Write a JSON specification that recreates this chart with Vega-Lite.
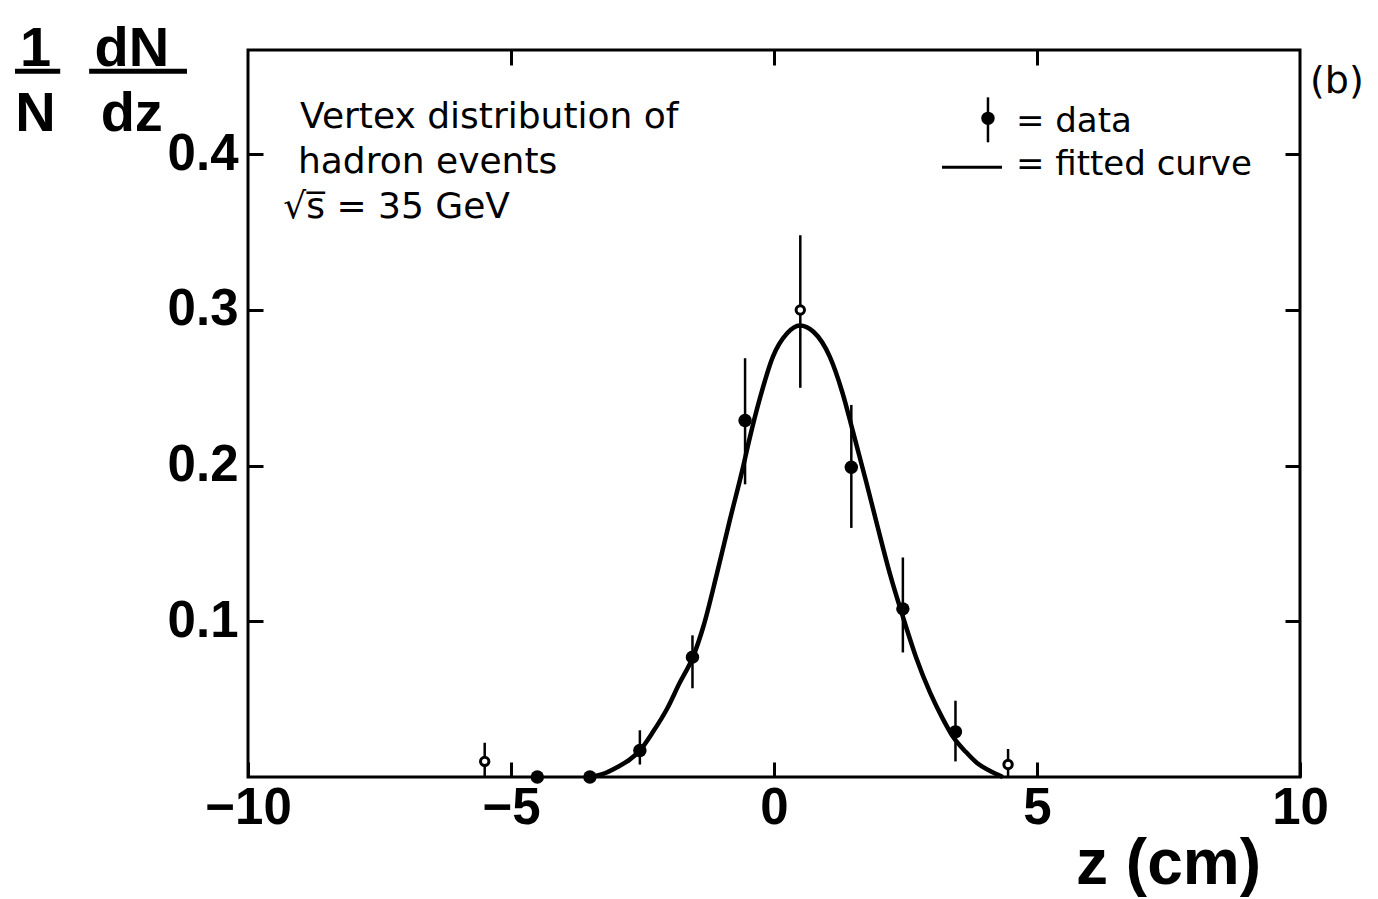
{
  "$schema": "https://vega.github.io/schema/vega-lite/v6.json",
  "width": 1052,
  "height": 727,
  "autosize": "none",
  "padding": {"left": 248, "top": 50, "right": 78, "bottom": 122},
  "background": "white",
  "config": {
    "view": {"stroke": "black", "strokeWidth": 3},
    "axis": {
      "domain": false,
      "grid": false,
      "tickColor": "black",
      "tickWidth": 3,
      "tickSize": -15,
      "labelColor": "black",
      "labelFont": "Liberation Sans",
      "labelFontSize": 51,
      "labelFontWeight": "bold",
      "labelFlush": false,
      "labelOverlap": false,
      "titleColor": "black"
    }
  },
  "datasets": {
    "points": [
      {"z": -5.5, "v": 0.010, "lo": 0.0, "hi": 0.022, "open": true},
      {"z": -4.5, "v": 0.0, "lo": 0.0, "hi": 0.0, "open": false},
      {"z": -3.5, "v": 0.0, "lo": 0.0, "hi": 0.0, "open": false},
      {"z": -2.55, "v": 0.017, "lo": 0.008, "hi": 0.030, "open": false},
      {"z": -1.55, "v": 0.077, "lo": 0.057, "hi": 0.091, "open": false},
      {"z": -0.55, "v": 0.229, "lo": 0.188, "hi": 0.269, "open": false},
      {"z": 0.5, "v": 0.300, "lo": 0.250, "hi": 0.348, "open": true},
      {"z": 1.47, "v": 0.199, "lo": 0.160, "hi": 0.239, "open": false},
      {"z": 2.45, "v": 0.108, "lo": 0.080, "hi": 0.141, "open": false},
      {"z": 3.45, "v": 0.029, "lo": 0.010, "hi": 0.049, "open": false},
      {"z": 4.45, "v": 0.008, "lo": 0.0, "hi": 0.018, "open": true}
    ],
    "curve": [
      {"z": -3.5, "f": 0.0},
      {"z": -3.25, "f": 0.002},
      {"z": -3.0, "f": 0.006},
      {"z": -2.75, "f": 0.011},
      {"z": -2.55, "f": 0.017},
      {"z": -2.3, "f": 0.029},
      {"z": -2.03, "f": 0.044},
      {"z": -1.8, "f": 0.060},
      {"z": -1.53, "f": 0.078},
      {"z": -1.34, "f": 0.097},
      {"z": -1.09, "f": 0.130},
      {"z": -0.84, "f": 0.165},
      {"z": -0.61, "f": 0.196},
      {"z": -0.46, "f": 0.218},
      {"z": -0.27, "f": 0.243},
      {"z": -0.02, "f": 0.270},
      {"z": 0.25, "f": 0.285},
      {"z": 0.49, "f": 0.290},
      {"z": 0.75, "f": 0.286},
      {"z": 1.06, "f": 0.270},
      {"z": 1.3, "f": 0.247},
      {"z": 1.5, "f": 0.222},
      {"z": 1.75, "f": 0.190},
      {"z": 1.96, "f": 0.162},
      {"z": 2.2, "f": 0.131},
      {"z": 2.45, "f": 0.103},
      {"z": 2.7, "f": 0.077},
      {"z": 2.97, "f": 0.054},
      {"z": 3.2, "f": 0.038},
      {"z": 3.4, "f": 0.026},
      {"z": 3.65, "f": 0.016},
      {"z": 3.86, "f": 0.009},
      {"z": 4.1, "f": 0.004},
      {"z": 4.35, "f": 0.0}
    ]
  },
  "layer": [
    {
      "data": {"name": "curve"},
      "mark": {"type": "line", "color": "black", "strokeWidth": 4.5, "interpolate": "monotone"},
      "encoding": {
        "x": {
          "field": "z", "type": "quantitative",
          "scale": {"domain": [-10, 10], "nice": false, "zero": false},
          "axis": {
            "orient": "bottom",
            "values": [-10, -5, 0, 5, 10],
            "labelPadding": 21,
            "title": "z (cm)",
            "titleFont": "Liberation Sans",
            "titleFontSize": 64,
            "titleFontWeight": "bold",
            "titleAlign": "center",
            "titleBaseline": "alphabetic",
            "titleAnchor": null,
            "titleX": 920,
            "titleY": 106
          }
        },
        "y": {
          "field": "f", "type": "quantitative",
          "scale": {"domain": [0, 0.467], "nice": false},
          "axis": {
            "orient": "left",
            "values": [0.1, 0.2, 0.3, 0.4],
            "format": ".1f",
            "labelPadding": 25,
            "title": null
          }
        }
      }
    },
    {
      "data": {"name": "curve"},
      "mark": {"type": "line", "opacity": 0},
      "encoding": {
        "x": {
          "field": "z", "type": "quantitative",
          "axis": {"orient": "top", "values": [-5, 0, 5], "labels": false, "title": null}
        },
        "y": {
          "field": "f", "type": "quantitative",
          "axis": {"orient": "right", "values": [0.1, 0.2, 0.3, 0.4], "labels": false, "title": null}
        }
      }
    },
    {
      "data": {"name": "points"},
      "mark": {"type": "rule", "color": "black", "strokeWidth": 2.5},
      "encoding": {
        "x": {"field": "z", "type": "quantitative", "axis": null},
        "y": {"field": "lo", "type": "quantitative", "axis": null},
        "y2": {"field": "hi"}
      }
    },
    {
      "data": {"name": "points"},
      "transform": [{"filter": "!datum.open"}],
      "mark": {"type": "point", "shape": "circle", "filled": true, "color": "black", "size": 180, "opacity": 1},
      "encoding": {
        "x": {"field": "z", "type": "quantitative", "axis": null},
        "y": {"field": "v", "type": "quantitative", "axis": null}
      }
    },
    {
      "data": {"name": "points"},
      "transform": [{"filter": "datum.open"}],
      "mark": {"type": "point", "shape": "circle", "filled": false, "color": "black", "fill": "white", "fillOpacity": 1, "strokeWidth": 3, "size": 70, "opacity": 1},
      "encoding": {
        "x": {"field": "z", "type": "quantitative", "axis": null},
        "y": {"field": "v", "type": "quantitative", "axis": null}
      }
    },
    {
      "data": {"values": [{}]},
      "mark": {"type": "text", "text": "1", "font": "Liberation Sans", "fontWeight": "bold", "fontSize": 56, "align": "center", "baseline": "alphabetic", "color": "black"},
      "encoding": {"x": {"datum": -14.04, "type": "quantitative", "axis": null}, "y": {"datum": 0.4565, "type": "quantitative", "axis": null}}
    },
    {
      "data": {"values": [{}]},
      "mark": {"type": "text", "text": "N", "font": "Liberation Sans", "fontWeight": "bold", "fontSize": 56, "align": "center", "baseline": "alphabetic", "color": "black"},
      "encoding": {"x": {"datum": -14.04, "type": "quantitative", "axis": null}, "y": {"datum": 0.4148, "type": "quantitative", "axis": null}}
    },
    {
      "data": {"values": [{}]},
      "mark": {"type": "text", "text": "dN", "font": "Liberation Sans", "fontWeight": "bold", "fontSize": 56, "align": "center", "baseline": "alphabetic", "color": "black"},
      "encoding": {"x": {"datum": -12.21, "type": "quantitative", "axis": null}, "y": {"datum": 0.4565, "type": "quantitative", "axis": null}}
    },
    {
      "data": {"values": [{}]},
      "mark": {"type": "text", "text": "dz", "font": "Liberation Sans", "fontWeight": "bold", "fontSize": 56, "align": "center", "baseline": "alphabetic", "color": "black"},
      "encoding": {"x": {"datum": -12.21, "type": "quantitative", "axis": null}, "y": {"datum": 0.4148, "type": "quantitative", "axis": null}}
    },
    {
      "data": {"values": [{}]},
      "mark": {"type": "rule", "color": "black", "strokeWidth": 5},
      "encoding": {"x": {"datum": -14.43, "type": "quantitative", "axis": null}, "x2": {"datum": -13.57}, "y": {"datum": 0.4533, "type": "quantitative", "axis": null}}
    },
    {
      "data": {"values": [{}]},
      "mark": {"type": "rule", "color": "black", "strokeWidth": 5},
      "encoding": {"x": {"datum": -13.02, "type": "quantitative", "axis": null}, "x2": {"datum": -11.16}, "y": {"datum": 0.4533, "type": "quantitative", "axis": null}}
    },
    {
      "data": {"values": [{}]},
      "mark": {"type": "text", "text": "Vertex  distribution of", "font": "DejaVu Sans", "fontSize": 36, "align": "left", "baseline": "alphabetic", "color": "black"},
      "encoding": {"x": {"datum": -9.01, "type": "quantitative", "axis": null}, "y": {"datum": 0.4167, "type": "quantitative", "axis": null}}
    },
    {
      "data": {"values": [{}]},
      "mark": {"type": "text", "text": "hadron events", "font": "DejaVu Sans", "fontSize": 36, "align": "left", "baseline": "alphabetic", "color": "black"},
      "encoding": {"x": {"datum": -9.05, "type": "quantitative", "axis": null}, "y": {"datum": 0.3878, "type": "quantitative", "axis": null}}
    },
    {
      "data": {"values": [{}]},
      "mark": {"type": "text", "text": "√s̅ = 35 GeV", "font": "DejaVu Sans", "fontSize": 36, "align": "left", "baseline": "alphabetic", "color": "black"},
      "encoding": {"x": {"datum": -9.33, "type": "quantitative", "axis": null}, "y": {"datum": 0.3589, "type": "quantitative", "axis": null}}
    },
    {
      "data": {"values": [{}]},
      "mark": {"type": "text", "text": "= data", "font": "DejaVu Sans", "fontSize": 34, "align": "left", "baseline": "alphabetic", "color": "black"},
      "encoding": {"x": {"datum": 4.6, "type": "quantitative", "axis": null}, "y": {"datum": 0.4141, "type": "quantitative", "axis": null}}
    },
    {
      "data": {"values": [{}]},
      "mark": {"type": "text", "text": "= fitted curve", "font": "DejaVu Sans", "fontSize": 34, "align": "left", "baseline": "alphabetic", "color": "black"},
      "encoding": {"x": {"datum": 4.6, "type": "quantitative", "axis": null}, "y": {"datum": 0.3869, "type": "quantitative", "axis": null}}
    },
    {
      "data": {"values": [{}]},
      "mark": {"type": "rule", "color": "black", "strokeWidth": 2.5},
      "encoding": {"x": {"datum": 4.068, "type": "quantitative", "axis": null}, "y": {"datum": 0.4077, "type": "quantitative", "axis": null}, "y2": {"datum": 0.4366}}
    },
    {
      "data": {"values": [{}]},
      "mark": {"type": "point", "shape": "circle", "filled": true, "color": "black", "size": 180, "opacity": 1},
      "encoding": {"x": {"datum": 4.068, "type": "quantitative", "axis": null}, "y": {"datum": 0.4231, "type": "quantitative", "axis": null}}
    },
    {
      "data": {"values": [{}]},
      "mark": {"type": "rule", "color": "black", "strokeWidth": 3},
      "encoding": {"x": {"datum": 3.194, "type": "quantitative", "axis": null}, "x2": {"datum": 4.335}, "y": {"datum": 0.3917, "type": "quantitative", "axis": null}}
    },
    {
      "data": {"values": [{}]},
      "mark": {"type": "text", "text": "(b)", "font": "DejaVu Sans", "fontSize": 38, "align": "center", "baseline": "alphabetic", "color": "black"},
      "encoding": {"x": {"datum": 10.70, "type": "quantitative", "axis": null}, "y": {"datum": 0.4392, "type": "quantitative", "axis": null}}
    }
  ],
  "resolve": {"axis": {"x": "independent", "y": "independent"}}
}
